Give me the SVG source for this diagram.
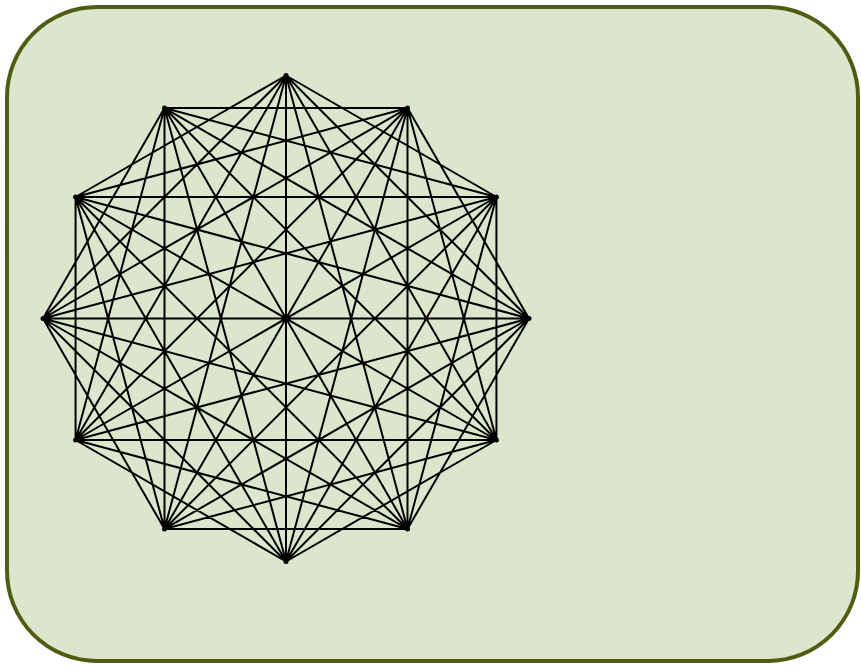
<svg xmlns="http://www.w3.org/2000/svg" width="861" height="666" viewBox="0 0 861 666">
<style>
.bg{fill:#dce6cd;stroke:#4f5c12;stroke-width:4}
.e{stroke:#000;stroke-width:2;fill:none}
.n{fill:#000}
</style>
<rect class="bg" x="7" y="7" width="851" height="654" rx="90" ry="90"/>
<g id="connectors" class="e">
<path d="M286,75.5L496.44,197M286,75.5L529,318.5M286,75.5L496.44,440M286,75.5L407.5,528.94M286,75.5L286,561.5M286,75.5L164.5,528.94M286,75.5L75.56,440M286,75.5L43,318.5M286,75.5L75.56,197
M407.5,108.06L529,318.5M407.5,108.06L496.44,440M407.5,108.06L407.5,528.94M407.5,108.06L286,561.5M407.5,108.06L164.5,528.94M407.5,108.06L75.56,440M407.5,108.06L43,318.5M407.5,108.06L75.56,197M407.5,108.06L164.5,108.06
M496.44,197L496.44,440M496.44,197L407.5,528.94M496.44,197L286,561.5M496.44,197L164.5,528.94M496.44,197L75.56,440M496.44,197L43,318.5M496.44,197L75.56,197M496.44,197L164.5,108.06
M529,318.5L407.5,528.94M529,318.5L286,561.5M529,318.5L164.5,528.94M529,318.5L75.56,440M529,318.5L43,318.5M529,318.5L75.56,197M529,318.5L164.5,108.06
M496.44,440L286,561.5M496.44,440L164.5,528.94M496.44,440L75.56,440M496.44,440L43,318.5M496.44,440L75.56,197M496.44,440L164.5,108.06
M407.5,528.94L164.5,528.94M407.5,528.94L75.56,440M407.5,528.94L43,318.5M407.5,528.94L75.56,197M407.5,528.94L164.5,108.06
M286,561.5L75.56,440M286,561.5L43,318.5M286,561.5L75.56,197M286,561.5L164.5,108.06
M164.5,528.94L43,318.5M164.5,528.94L75.56,197M164.5,528.94L164.5,108.06
M75.56,440L75.56,197M75.56,440L164.5,108.06
M43,318.5L164.5,108.06"/>
</g>
<g id="v0"><circle class="n" cx="286" cy="75.5" r="2.5"/></g>
<g id="v1"><circle class="n" cx="407.5" cy="108.06" r="2.5"/></g>
<g id="v2"><circle class="n" cx="496.44" cy="197" r="2.5"/></g>
<g id="v3"><circle class="n" cx="529" cy="318.5" r="2.5"/></g>
<g id="v4"><circle class="n" cx="496.44" cy="440" r="2.5"/></g>
<g id="v5"><circle class="n" cx="407.5" cy="528.94" r="2.5"/></g>
<g id="v6"><circle class="n" cx="286" cy="561.5" r="2.5"/></g>
<g id="v7"><circle class="n" cx="164.5" cy="528.94" r="2.5"/></g>
<g id="v8"><circle class="n" cx="75.56" cy="440" r="2.5"/></g>
<g id="v9"><circle class="n" cx="43" cy="318.5" r="2.5"/></g>
<g id="v10"><circle class="n" cx="75.56" cy="197" r="2.5"/></g>
<g id="v11"><circle class="n" cx="164.5" cy="108.06" r="2.5"/></g>
</svg>
